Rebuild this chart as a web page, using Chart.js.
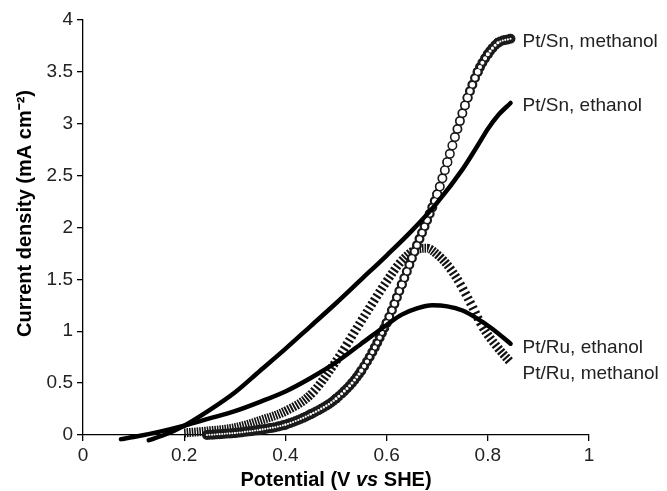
<!DOCTYPE html>
<html>
<head>
<meta charset="utf-8">
<script src="https://cdn.jsdelivr.net/npm/chart.js@4.4.0/dist/chart.umd.min.js"></script>
<style>
    html, body { margin: 0; padding: 0; background: #fff; }
    #wrap { width: 667px; height: 491px; }
</style>
</head>
<body>
<div id="wrap"><canvas id="chart" width="667" height="491"></canvas></div>
<script>
// Values: [potential (V vs SHE), current density (mA cm-2)]
const ptSnMethanol = [
    [0.245, 0.0], [0.3, 0.02], [0.35, 0.05], [0.4, 0.1], [0.45, 0.2], [0.5, 0.35],
    [0.55, 0.62], [0.6, 1.08], [0.63, 1.45], [0.66, 1.83], [0.68, 2.07], [0.7, 2.32],
    [0.72, 2.63], [0.74, 2.95], [0.76, 3.25], [0.78, 3.5], [0.8, 3.67], [0.82, 3.78], [0.845, 3.82]
];
const ptSnEthanol = [
    [0.13, -0.05], [0.16, 0.0], [0.2, 0.09], [0.25, 0.24], [0.3, 0.41], [0.35, 0.62],
    [0.4, 0.83], [0.45, 1.05], [0.5, 1.27], [0.55, 1.5], [0.6, 1.73], [0.65, 1.97],
    [0.7, 2.24], [0.75, 2.56], [0.78, 2.79], [0.8, 2.95], [0.82, 3.08], [0.845, 3.2]
];
const ptRuEthanol = [
    [0.075, -0.04], [0.1, -0.02], [0.15, 0.03], [0.2, 0.09], [0.25, 0.16], [0.3, 0.23],
    [0.35, 0.32], [0.4, 0.42], [0.45, 0.55], [0.5, 0.7], [0.55, 0.88], [0.6, 1.06],
    [0.63, 1.16], [0.66, 1.22], [0.69, 1.25], [0.72, 1.24], [0.75, 1.2], [0.78, 1.12],
    [0.81, 1.02], [0.845, 0.88]
];
const ptRuMethanol = [
    [0.2, 0.02], [0.25, 0.04], [0.3, 0.07], [0.35, 0.14], [0.4, 0.23], [0.45, 0.39],
    [0.5, 0.71], [0.55, 1.1], [0.6, 1.48], [0.63, 1.68], [0.66, 1.79], [0.68, 1.8],
    [0.7, 1.74], [0.72, 1.64], [0.74, 1.5], [0.765, 1.28], [0.79, 1.04], [0.82, 0.84], [0.845, 0.7]
];

const seriesNames = ['Pt/Sn, methanol', 'Pt/Sn, ethanol', 'Pt/Ru, ethanol', 'Pt/Ru, methanol'];
const xTickLabels = ['0', '0.2', '0.4', '0.6', '0.8', '1'];
const yTickLabels = ['0', '0.5', '1', '1.5', '2', '2.5', '3', '3.5', '4'];

const X_TITLE = ['Potential (V ', 'vs', ' SHE)'];
const Y_TITLE = 'Current density (mA cm\u207B\u00B2)';

// spacing of the recorded points along the scan, used for marker spacing
const SCAN_STEP = 0.005;
const FONT = '"Liberation Sans", Arial, sans-serif';

function toXY(rows) {
    return rows.map(r => ({ x: r[0], y: r[1] }));
}

// gap between markers on one segment so that there is one per scan step
function markerGap(ctx) {
    const xs = ctx.chart.scales.x;
    const stepPx = xs.getPixelForValue(SCAN_STEP) - xs.getPixelForValue(0);
    const dx = ctx.p1.x - ctx.p0.x;
    const len = Math.hypot(dx, ctx.p1.y - ctx.p0.y);
    const n = Math.max(1, dx / stepPx);
    return len / n;
}

function baseLine(rows, order) {
    return {
        data: toXY(rows),
        pointRadius: 0,
        fill: false,
        clip: 10,
        cubicInterpolationMode: 'monotone',
        order: order
    };
}

// open circles: a row of dark dots with a row of white dots on top
function ringLayer(rows, color, width, order, hole) {
    const ds = baseLine(rows, order);
    ds.borderColor = color;
    ds.borderWidth = width;
    ds.borderCapStyle = 'round';
    ds.segment = {
        borderDash: ctx => [0, markerGap(ctx)],
        borderWidth: hole ? ctx => Math.min(width, Math.max(2, markerGap(ctx) * 0.8)) : undefined
    };
    return ds;
}

// open triangles, packed tight, read as a hatched band
function triangleLayer(rows, order) {
    const ds = baseLine(rows, order);
    ds.borderColor = '#111';
    ds.borderWidth = 9;
    ds.borderCapStyle = 'butt';
    ds.segment = {
        borderDash: ctx => {
            const g = markerGap(ctx);
            const on = Math.min(2.2, g * 0.62);
            return [on, Math.max(0.8, g - on)];
        }
    };
    return ds;
}

function solidLine(rows, order) {
    const ds = baseLine(rows, order);
    ds.borderColor = '#000';
    ds.borderWidth = 4.5;
    ds.borderCapStyle = 'round';
    return ds;
}

// series names written next to the end of each curve
const endLabels = {
    id: 'endLabels',
    afterDatasetsDraw(chart) {
        const ctx = chart.ctx;
        const xs = chart.scales.x, ys = chart.scales.y;
        const ends = [ptSnMethanol, ptSnEthanol, ptRuEthanol, ptRuMethanol];
        const nudge = [3, 3, 4, 11];
        ctx.save();
        ctx.font = '19px ' + FONT;
        ctx.fillStyle = '#222';
        ctx.textBaseline = 'middle';
        ctx.textAlign = 'left';
        ends.forEach((rows, i) => {
            const last = rows[rows.length - 1];
            ctx.fillText(seriesNames[i], xs.getPixelForValue(last[0]) + 12, ys.getPixelForValue(last[1]) + nudge[i]);
        });
        ctx.restore();
    }
};

// axis titles (the x title mixes bold and bold italic)
const axisTitles = {
    id: 'axisTitles',
    afterDraw(chart) {
        const ctx = chart.ctx;
        const area = chart.chartArea;
        const bold = 'bold 20px ' + FONT;
        const boldItalic = 'italic bold 20px ' + FONT;
        ctx.save();
        ctx.fillStyle = '#000';
        ctx.textBaseline = 'middle';
        const fonts = [bold, boldItalic, bold];
        const widths = X_TITLE.map((t, i) => { ctx.font = fonts[i]; return ctx.measureText(t).width; });
        let x = (area.left + area.right) / 2 - widths.reduce((a, b) => a + b, 0) / 2;
        X_TITLE.forEach((t, i) => {
            ctx.font = fonts[i];
            ctx.textAlign = 'left';
            ctx.fillText(t, x, 480);
            x += widths[i];
        });
        ctx.translate(25, (area.top + area.bottom) / 2 - 14);
        ctx.rotate(-Math.PI / 2);
        ctx.font = bold;
        ctx.textAlign = 'center';
        ctx.fillText(Y_TITLE, 0, 0);
        ctx.restore();
    }
};

const tickFont = { family: FONT, size: 19 };
const axisGrid = { drawOnChartArea: false, drawTicks: true, tickLength: 6, color: '#000', lineWidth: 1.3 };
const axisBorder = { display: true, color: '#000', width: 1.3 };

new Chart(document.getElementById('chart').getContext('2d'), {
    type: 'line',
    data: {
        datasets: [
            solidLine(ptSnEthanol, 0),
            solidLine(ptRuEthanol, 1),
            ringLayer(ptSnMethanol, '#fff', 7, 2, true),
            ringLayer(ptSnMethanol, '#1a1a1a', 10, 3, false),
            triangleLayer(ptRuMethanol, 4)
        ]
    },
    options: {
        responsive: false,
        animation: false,
        events: [],
        layout: { padding: { top: 20, right: 78, left: 0, bottom: 0 } },
        plugins: {
            legend: { display: false },
            tooltip: { enabled: false },
            title: { display: false }
        },
        scales: {
            x: {
                type: 'linear',
                min: 0,
                max: 1,
                afterFit: scale => { scale.height = 56; },
                ticks: {
                    stepSize: 0.2,
                    padding: 3,
                    color: '#222',
                    font: tickFont,
                    maxRotation: 0,
                    callback: (v, i) => xTickLabels[i]
                },
                grid: axisGrid,
                border: axisBorder
            },
            y: {
                type: 'linear',
                min: 0,
                max: 4,
                afterFit: scale => { scale.width = 83; },
                ticks: {
                    stepSize: 0.5,
                    padding: 4,
                    color: '#222',
                    font: tickFont,
                    callback: (v, i) => yTickLabels[i]
                },
                grid: axisGrid,
                border: axisBorder
            }
        }
    },
    plugins: [endLabels, axisTitles]
});
</script>
</body>
</html>
